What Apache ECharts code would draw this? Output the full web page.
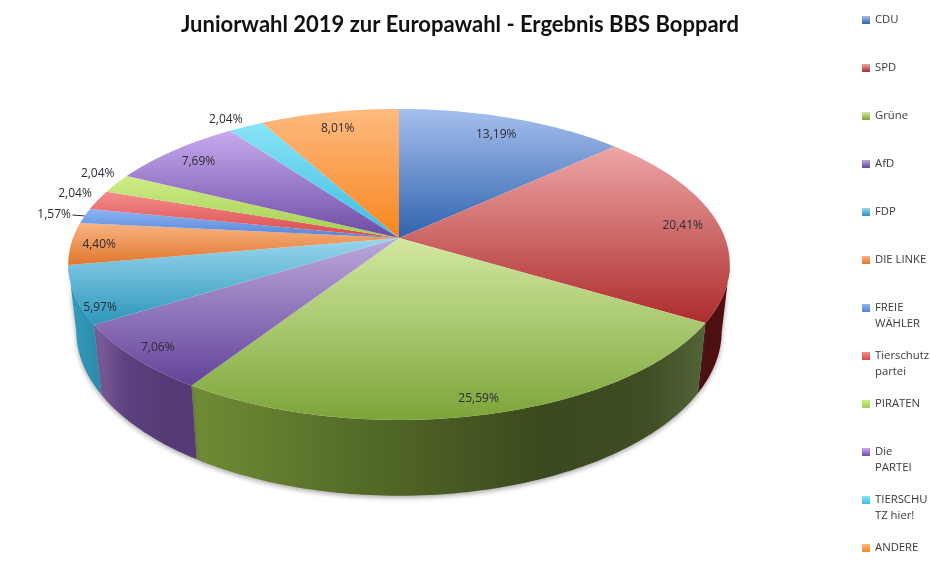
<!DOCTYPE html>
<html><head><meta charset="utf-8">
<script src="https://cdn.jsdelivr.net/npm/echarts@6/dist/echarts.min.js"></script>
<style>html,body{margin:0;padding:0;background:#fff}#c{width:930px;height:581px}</style>
</head><body><div id="c"></div>
<script>
const parties = ['CDU','SPD','Grüne','AfD','FDP','DIE LINKE','FREIE WÄHLER','Tierschutzpartei','PIRATEN','Die PARTEI','TIERSCHUTZ hier!','ANDERE'];
const legendText = ['CDU','SPD','Grüne','AfD','FDP','DIE LINKE','FREIE\nWÄHLER','Tierschutz\npartei','PIRATEN','Die\nPARTEI','TIERSCHU\nTZ hier!','ANDERE'];
const shares = [13.19,20.41,25.59,7.06,5.97,4.40,1.57,2.04,2.04,7.69,2.04,8.01];
const lightColors = ['#a6bfee','#eea6a6','#d2e8a0','#bca8da','#9ad6ee','#f9b484','#8cb4f2','#f58c8c','#d0ec88','#c8aaee','#8ae4f6','#ffba80'];
const darkColors  = ['#2f63ad','#ad2c2c','#7ca53a','#62439a','#2c96ba','#e0762c','#5484d6','#d84a4a','#a0ce50','#6c4ca4','#3cbce2','#f7861e'];
const wallLeft  = ['#4a0f10','#718c36','#80609e','#38a0c2'];
const wallQuarter = ['#4c0f10','#566e28','#5e4280','#3196b8'];
const wallMid   = ['#500f12','#3b4a1e','#553a75','#2f8fb0'];
const wallEnd   = ['#540f12','#3e4d22','#553a75','#2d8bac'];
const wallRight = ['#5c1618','#526438','#553a75','#2c87a8'];
const wallColorIndex = [-1,0,1,2,3,-1,-1,-1,-1,-1,-1,-1];
const labelRadius = [0.857,0.888,0.92,0.92,0.95,0.915,1.10,1.095,1.10,0.88,1.097,0.862];
const labelAngleShift = [-0.5,0,0,0,-5.6,0,0,1.8,2.5,0,-1.5,0];
const leaderLine = [false,false,false,false,false,false,true,false,false,false,false,false];

const total = shares.reduce((a,b)=>a+b,0);
const CX=399, CY=238, RX=326, RY=151, K=0.17;
const CY2=303, RX2=318, RY2=160;
const WALL_FROM=100, WALL_TO=260;
const starts=[]; shares.reduce((acc,v,i)=>{starts[i]=acc;return acc+v;},0);

function proj(deg,r,bottom){
  const a=deg*Math.PI/180, c=Math.sin(a)*r, s=-Math.cos(a)*r, w=1-K*s;
  return bottom ? [CX+RX2*c/w, CY2+RY2*s/w] : [CX+RX*c/w, CY+RY*s/w];
}
function arc(a0,a1,bottom){
  const n=Math.max(2,Math.ceil(Math.abs(a1-a0))), pts=[];
  for(let i=0;i<=n;i++) pts.push(proj(a0+(a1-a0)*i/n,1,bottom));
  return pts;
}
const grad=(x0,y0,x1,y1,stops)=>new echarts.graphic.LinearGradient(x0,y0,x1,y1,stops);

function renderSlice(params,api){
  const i=params.seriesIndex;
  const a0=starts[i]/total*360, a1=(starts[i]+api.value(0))/total*360, mid=(a0+a1)/2;
  const children=[];
  const wi=wallColorIndex[i];
  const w0=Math.max(a0,WALL_FROM), w1=Math.min(a1,WALL_TO);
  if(wi>=0 && w1>w0){
    const pts=arc(w0,w1,false).concat(arc(w0,w1,true).reverse());
    children.push({type:'polygon',z2:1,shape:{points:pts},style:{
      fill:grad(0,0,1,0,[{offset:0,color:wallLeft[wi]},{offset:0.3,color:wallQuarter[wi]},{offset:0.68,color:wallMid[wi]},{offset:0.88,color:wallEnd[wi]},{offset:1,color:wallRight[wi]}]),
      shadowColor:'rgba(60,60,60,0.45)',shadowBlur:5,shadowOffsetY:2}});
  }
  children.push({type:'polygon',z2:10,shape:{points:[[CX,CY]].concat(arc(a0,a1,false))},style:{
    fill:grad(0,0,0,1,[{offset:0,color:lightColors[i]},{offset:1,color:darkColors[i]}])}});
  const lp=proj(mid+labelAngleShift[i],labelRadius[i],false);
  children.push({type:'text',z2:20,style:{x:lp[0],y:lp[1]+1,text:shares[i].toFixed(2).replace('.',',')+'%',
    fill:'#2c2c34',font:'12px "Open Sans"',textAlign:'center',textVerticalAlign:'middle'}});
  if(leaderLine[i]){
    const p0=proj(mid,1.0,false),p1=proj(mid,1.04,false);
    children.push({type:'line',z2:20,shape:{x1:p0[0],y1:p0[1],x2:p1[0],y2:p1[1]},style:{stroke:'#333',lineWidth:1}});
  }
  return {type:'group',children};
}

const chart=echarts.init(document.getElementById('c'),null,{renderer:'canvas'});
chart.setOption({
  animation:false,
  backgroundColor:'#fff',
  title:{text:'Juniorwahl 2019 zur Europawahl - Ergebnis BBS Boppard',top:14,padding:0,
    textAlign:'center',left:460,textStyle:{fontFamily:'Lato',fontWeight:'bold',fontSize:22,color:'#111'}},
  legend:parties.map((p,i)=>({
    data:[p],left:862,top:20+48*i-24,padding:0,orient:'vertical',selectedMode:false,icon:'rect',
    itemWidth:8,itemHeight:8,
    formatter:()=>{const l=legendText[i].split('\n');return '\n'+l[0]+'\n'+(l[1]||' ');},
    textStyle:{fontFamily:'Open Sans',fontSize:11.3,lineHeight:16,color:'#3a3a3a'}
  })),
  series:parties.map((p,i)=>({
    type:'custom',name:p,coordinateSystem:'none',data:[[shares[i]]],renderItem:renderSlice,
    silent:true,
    itemStyle:{color:grad(0,0,0,1,[{offset:0,color:lightColors[i]},{offset:1,color:darkColors[i]}])}
  }))
});
</script></body></html>
